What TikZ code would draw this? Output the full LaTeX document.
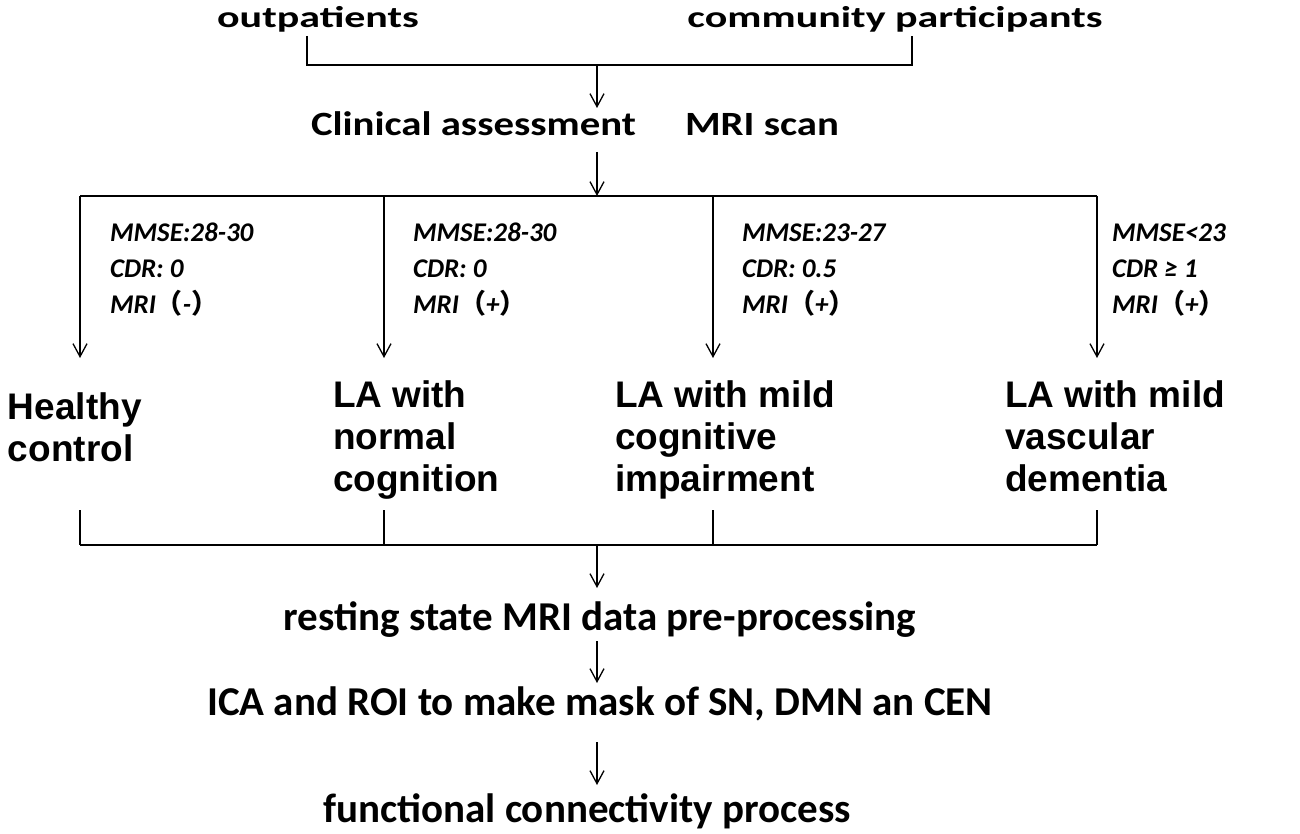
\documentclass[tikz,border=0pt]{standalone}
\usepackage{fontspec}
\setmainfont{Carlito}
\newfontfamily\widefont[FakeStretch=1.4]{Carlito}
\newfontfamily\midfont[FakeStretch=1.2]{Carlito}
\newfontfamily\groupfont{Liberation Sans}
\newfontfamily\cjk{Noto Sans CJK SC}
\newcommand{\lp}{{\cjk\bfseries（}}
\newcommand{\rp}{{\cjk\bfseries）}}
\usetikzlibrary{arrows.meta}

\begin{document}
\begin{tikzpicture} [
                x=1pt, y=-1pt,
                every node/.style = {inner sep=0pt, outer sep=0pt},
                source/.style = {anchor=base, font=\widefont\bfseries\fontsize{30}{32}\selectfont},
                exam/.style = {anchor=base west, font=\midfont\bfseries\fontsize{34}{36}\selectfont},
                criteria/.style = {anchor=north west, align=left, font=\bfseries\itshape\fontsize{27}{36}\selectfont},
                group/.style = {anchor=north west, align=left, font=\groupfont\bfseries\fontsize{37}{42}\selectfont},
                stage/.style = {anchor=base, font=\bfseries\fontsize{41}{44}\selectfont},
                link/.style = {draw, line width=1.3pt},
                flow/.style = {link, -{Straight Barb[length=13pt,width=14pt,line width=1.3pt]}}
            ]
            \useasboundingbox (0,0) rectangle (1300,834);
            % First the recruitment sources and the assessment
            \node[source] (outp) at (318,28) {outpatients};
            \node[source] (comm) at (895,28) {community participants};
            \node[exam] (clin) at (311,136) {Clinical assessment};
            \node[exam] (mri) at (685,136) {MRI scan};
            % merge both sources into the assessment
            \coordinate (in1) at (307,36);
            \coordinate (in2) at (912,36);
            \coordinate (join) at (597,65);
            \coordinate (assess) at (597,108);
            \path[link] (in1) |- (join) -| (in2);
            \path[flow] (join) -- (assess);
            % split into the four groups
            \coordinate (split) at (597,152);
            \coordinate (bus) at (597,196);
            \path[flow] (split) -- (bus);
            \foreach \x/\name in {80/hc, 384/nc, 713/mci, 1097/vd}
            {
                \coordinate (top-\name) at (\x,196);
                \coordinate (tip-\name) at (\x,358);
                \coordinate (end-\name) at (\x,510);
                \coordinate (low-\name) at (\x,545);
                \path[flow] (top-\name) -- (tip-\name);
                \path[link] (end-\name) -- (low-\name);
            }
            \path[link] (top-hc) -- (top-vd);
            \path[link] (low-hc) -- (low-vd);
            % criteria of each group (strut keeps the first lines level)
            \node[criteria] (crit-hc) at (110,216) {\strut MMSE:28-30\\CDR: 0\\MRI\lp-\rp};
            \node[criteria] (crit-nc) at (413,216) {\strut MMSE:28-30\\CDR: 0\\MRI\lp+\rp};
            \node[criteria] (crit-mci) at (742,216) {\strut MMSE:23-27\\CDR: 0.5\\MRI\lp+\rp};
            \node[criteria] (crit-vd) at (1112,216) {\strut MMSE<23\\CDR ≥ 1\\MRI\lp+\rp};
            % the groups
            \node[group] (hc) at (8,393) {Healthy\\control};
            \node[group] (nc) at (333,381) {LA with\\normal\\cognition};
            \node[group] (mci) at (615,381) {LA with mild\\cognitive\\impairment};
            \node[group] (vd) at (1005,381) {LA with mild\\vascular\\dementia};
            % processing chain
            \coordinate (merge) at (597,545);
            \node[stage] (prep) at (600,630) {resting state MRI data pre-processing};
            \node[stage] (ica) at (600,715) {ICA and ROI to make mask of SN, DMN an CEN};
            \node[stage] (fc) at (587,822) {functional connectivity process};
            \path[flow] (merge) -- (597,588);
            \path[flow] (597,641) -- (597,683);
            \path[flow] (597,742) -- (597,785);
\end{tikzpicture}
\end{document}
